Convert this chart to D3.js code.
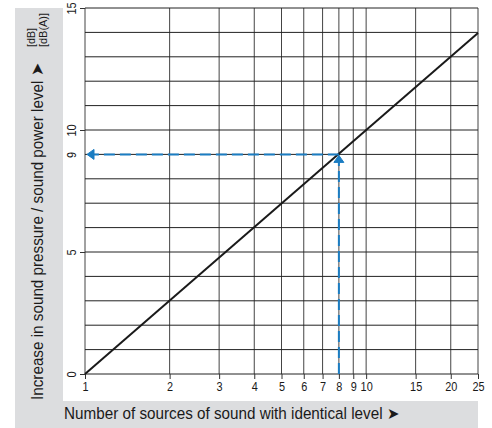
<!DOCTYPE html>
<html><head><meta charset="utf-8">
<script src="https://cdn.jsdelivr.net/npm/d3@7"></script>
<style>
html,body{margin:0;padding:0;background:#fff;}
svg{display:block;}
text{font-family:"Liberation Sans",Arial,sans-serif;fill:#1a1a1a;}
</style></head>
<body>
<svg id="c" width="492" height="428"></svg>
<script>
// data
const xTickValues = [1,2,3,4,5,6,7,8,9,10,15,20,25];
const yTickValues = [0,5,10,15];
const yGridValues = [0,1,2,3,4,5,6,7,8,9,10,11,12,13,14,15];
const sources = [1,25];
const levelIncrease = [0,13.98];
const markerX = [8];
const markerY = [9];
const xTitle = "Number of sources of sound with identical level \u27A4";
const yTitle = "Increase in sound pressure / sound power level \u27A4";
const yUnits = ["[dB]","[dB(A)]"];

const svg = d3.select("#c");
const L = 85, R = 478, T = 8, B = 374;
const blue = "#1b7dc2";
const SX = 0.84;

// grey frame
svg.append("rect").attr("x",15).attr("y",8).attr("width",48).attr("height",420).attr("fill","#dcdddf");
svg.append("rect").attr("x",15).attr("y",401).attr("width",463).attr("height",27).attr("fill","#dcdddf");

const x = d3.scaleLog().domain([1,25]).range([L,R]);
const y = d3.scaleLinear().domain([0,15]).range([B,T]);

// grid
const g = svg.append("g");
g.selectAll("line.v").data(xTickValues).join("line")
  .attr("x1",d=>x(d)).attr("x2",d=>x(d)).attr("y1",T).attr("y2",B)
  .attr("stroke","#444").attr("stroke-width",1);
g.selectAll("line.h").data(yGridValues).join("line")
  .attr("x1",L).attr("x2",R).attr("y1",d=>y(d)).attr("y2",d=>y(d))
  .attr("stroke","#222").attr("stroke-width",1);

// axes
const xAxis = d3.axisBottom(x).tickValues(xTickValues).tickFormat(d3.format("d")).tickSize(5).tickPadding(3);
const xa = svg.append("g").attr("transform",`translate(0,${B})`).call(xAxis);
xa.select(".domain").remove();
xa.selectAll("line").attr("stroke","#333");
xa.selectAll("text").attr("font-size",13).style("font-family",'"Liberation Sans",Arial,sans-serif')
  .attr("transform",`scale(${SX},1)`)
  .attr("fill",d=>markerX.includes(d)?blue:"#1a1a1a");

const yAxis = d3.axisLeft(y).tickValues(yTickValues.concat(markerY)).tickFormat(d3.format("d")).tickSize(5).tickPadding(2);
const ya = svg.append("g").attr("transform",`translate(${L},0)`).call(yAxis);
ya.select(".domain").remove();
ya.selectAll(".tick line").attr("stroke",d=>markerY.includes(d)?"none":"#333");
ya.selectAll(".tick text")
  .attr("font-size",13)
  .style("font-family",'"Liberation Sans",Arial,sans-serif')
  .attr("text-anchor","middle")
  .attr("transform",`rotate(-90) scale(${SX},1)`)
  .attr("x",0).attr("dy",0).attr("y",-9)
  .attr("fill",d=>markerY.includes(d)?blue:"#1a1a1a");

// main line
svg.append("path").datum(sources.map((s,i)=>[s,levelIncrease[i]]))
  .attr("d",d3.line().x(d=>x(d[0])).y(d=>y(d[1])))
  .attr("fill","none").attr("stroke","#1a1a1a").attr("stroke-width",2);

// blue dashed guides
const mx = x(markerX[0]), my = y(markerY[0]);
svg.append("line").attr("x1",mx).attr("x2",mx).attr("y1",B).attr("y2",my+6)
  .attr("stroke",blue).attr("stroke-width",2).attr("stroke-dasharray","11,5");
svg.append("line").attr("x1",mx).attr("x2",L+6).attr("y1",my).attr("y2",my)
  .attr("stroke",blue).attr("stroke-width",2).attr("stroke-dasharray","11,5");
// arrowheads
svg.append("path").attr("d",`M${mx-5},${my+8} L${mx},${my+1} L${mx+5},${my+8} Z`)
  .attr("fill",blue).attr("stroke",blue).attr("stroke-width",1);
svg.append("path").attr("d",`M${L+9},${my-5} L${L+2},${my} L${L+9},${my+5} Z`)
  .attr("fill",blue).attr("stroke",blue).attr("stroke-width",1);

// titles
function fitText(sel, target, baseTransform){
  const len = sel.node().getComputedTextLength();
  const s = target/len;
  sel.attr("transform", `${baseTransform} scale(${s},1)`);
}
const xt = svg.append("text").attr("font-size",16.5).text(xTitle);
fitText(xt, 336, "translate(64,419)");
const yt = svg.append("text").attr("font-size",16.5).text(yTitle);
fitText(yt, 337, "translate(43,400) rotate(-90)");
const u0 = svg.append("text").attr("font-size",11.5).text(yUnits[0]);
fitText(u0, 19, "translate(34.5,47) rotate(-90)");
const u1 = svg.append("text").attr("font-size",11.5).text(yUnits[1]);
fitText(u1, 34, "translate(46.5,47) rotate(-90)");
</script>
</body></html>
